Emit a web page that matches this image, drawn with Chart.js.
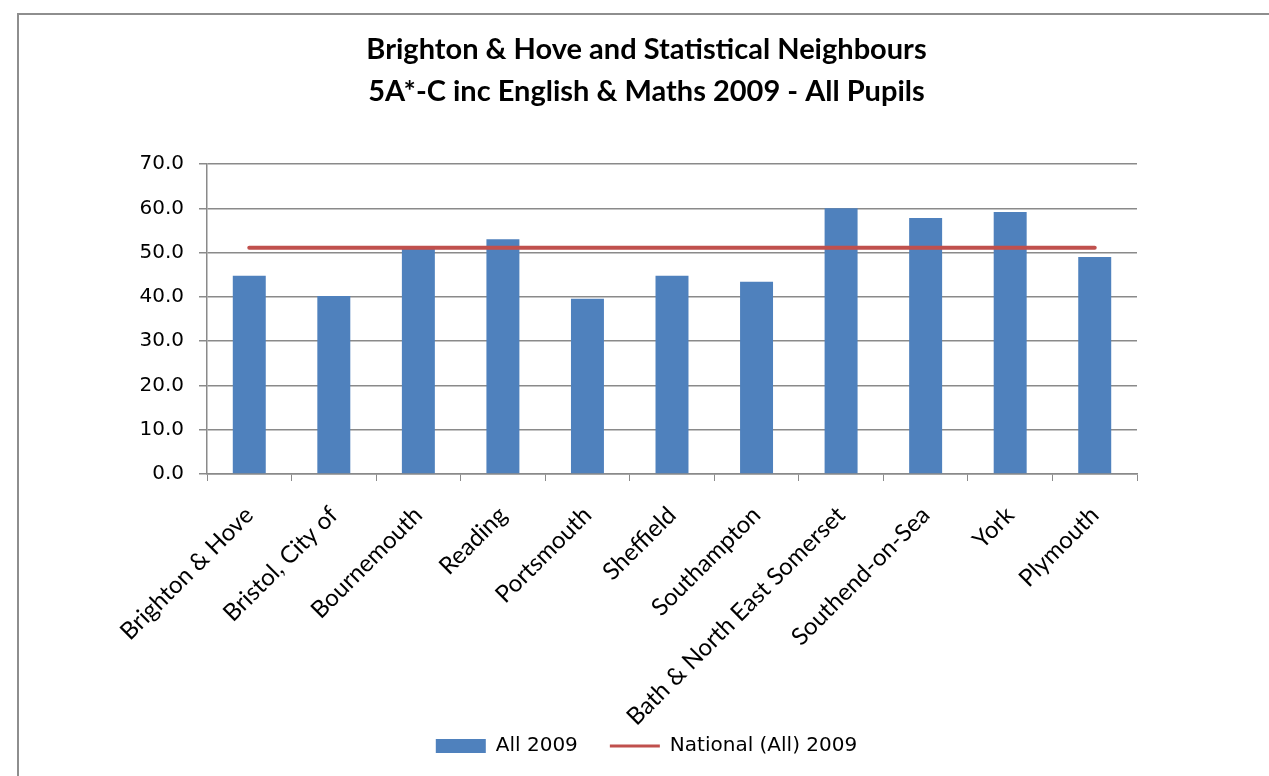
<!DOCTYPE html>
<html>
<head>
<meta charset="utf-8">
<script src="https://cdn.jsdelivr.net/npm/chart.js@4.4.0/dist/chart.umd.min.js"></script>
<style>
    html, body { margin: 0; padding: 0; background: #fff; overflow: hidden; }
    #frame {
        position: absolute; left: 17px; top: 13px; width: 1400px; height: 900px;
        border-top: 2px solid #8e8e8e; border-left: 2px solid #8e8e8e;
    }
    #chart { position: absolute; left: 0; top: 0; }
</style>
</head>
<body>
<div id="frame"></div>
<canvas id="chart" width="1269" height="776"></canvas>
<script>
const categories = ['Brighton & Hove', 'Bristol, City of', 'Bournemouth', 'Reading', 'Portsmouth',
    'Sheffield', 'Southampton', 'Bath & North East Somerset', 'Southend-on-Sea', 'York', 'Plymouth'];
const all2009 = [44.8, 40.2, 50.8, 53.0, 39.6, 44.8, 43.4, 60.0, 57.8, 59.2, 49.0];
const national2009 = [51.1, 51.1, 51.1, 51.1, 51.1, 51.1, 51.1, 51.1, 51.1, 51.1, 51.1];
const titleLines = ['Brighton & Hove and Statistical Neighbours', '5A*-C inc English & Maths 2009 - All Pupils'];

const gridGrey = '#8a8a8a';

// long rotated labels run into the legend area, so don't clip them to the axis box
const unclipLabels = {
    id: 'unclipLabels',
    afterLayout(c) { c.scales.x.bottom = c.height; }
};

const chart = new Chart(document.getElementById('chart').getContext('2d'), {
    type: 'bar',
    data: {
        labels: categories,
        datasets: [
            {
                type: 'line',
                label: 'National (All) 2009',
                data: national2009,
                borderColor: '#C0504D',
                backgroundColor: '#C0504D',
                borderWidth: 4,
                pointRadius: 0,
                borderCapStyle: 'round',
                order: 0
            },
            {
                label: 'All 2009',
                data: all2009,
                backgroundColor: '#4F81BD',
                borderWidth: 0,
                categoryPercentage: 1,
                barPercentage: 0.39,
                order: 1
            }
        ]
    },
    options: {
        responsive: false,
        devicePixelRatio: 1,
        animation: false,
        layout: { padding: { left: 24, right: 0, top: 0, bottom: 10 } },
        scales: {
            x: {
                grid: { drawOnChartArea: false, offset: true, color: gridGrey, tickLength: 7 },
                border: { color: gridGrey, width: 1.5 },
                ticks: {
                    color: '#000',
                    font: { family: 'Lato', size: 24 },
                    minRotation: 45,
                    maxRotation: 45,
                    autoSkip: false,
                    padding: 20
                },
                afterFit(scale) { scale.height = 230; }
            },
            y: {
                min: 0,
                max: 70,
                ticks: {
                    stepSize: 10,
                    color: '#000',
                    font: { family: 'DejaVu Sans', size: 20 },
                    padding: 15,
                    callback: v => v.toFixed(1)
                },
                grid: { color: gridGrey, lineWidth: 1.5, tickLength: 8 },
                border: { color: gridGrey, width: 1.5 },
                afterFit(scale) { scale.width = 183; }
            },
            yR: {
                position: 'right',
                display: true,
                grid: { display: false },
                border: { display: false },
                ticks: { display: false },
                afterFit(scale) { scale.width = 132; }
            }
        },
        plugins: {
            title: {
                display: true,
                text: titleLines,
                color: '#000',
                font: { family: 'Lato', size: 29, weight: 'bold', lineHeight: 1.45 },
                padding: { top: 29, bottom: 51 }
            },
            legend: {
                position: 'bottom',
                reverse: true,
                labels: {
                    color: '#000',
                    font: { family: 'DejaVu Sans', size: 20 },
                    usePointStyle: true,
                    pointStyleWidth: 50,
                    boxHeight: 14,
                    padding: 32,
                    generateLabels(c) {
                        return c.data.datasets.map((ds, i) => ({
                            text: ds.label,
                            fillStyle: ds.type === 'line' ? ds.borderColor : ds.backgroundColor,
                            strokeStyle: ds.type === 'line' ? ds.borderColor : ds.backgroundColor,
                            lineWidth: ds.type === 'line' ? 3 : 0,
                            pointStyle: ds.type === 'line' ? 'line' : 'rect',
                            fontColor: '#000',
                            hidden: false,
                            datasetIndex: i
                        }));
                    }
                }
            },
            tooltip: { enabled: false }
        }
    },
    plugins: [unclipLabels]
});
</script>
</body>
</html>
